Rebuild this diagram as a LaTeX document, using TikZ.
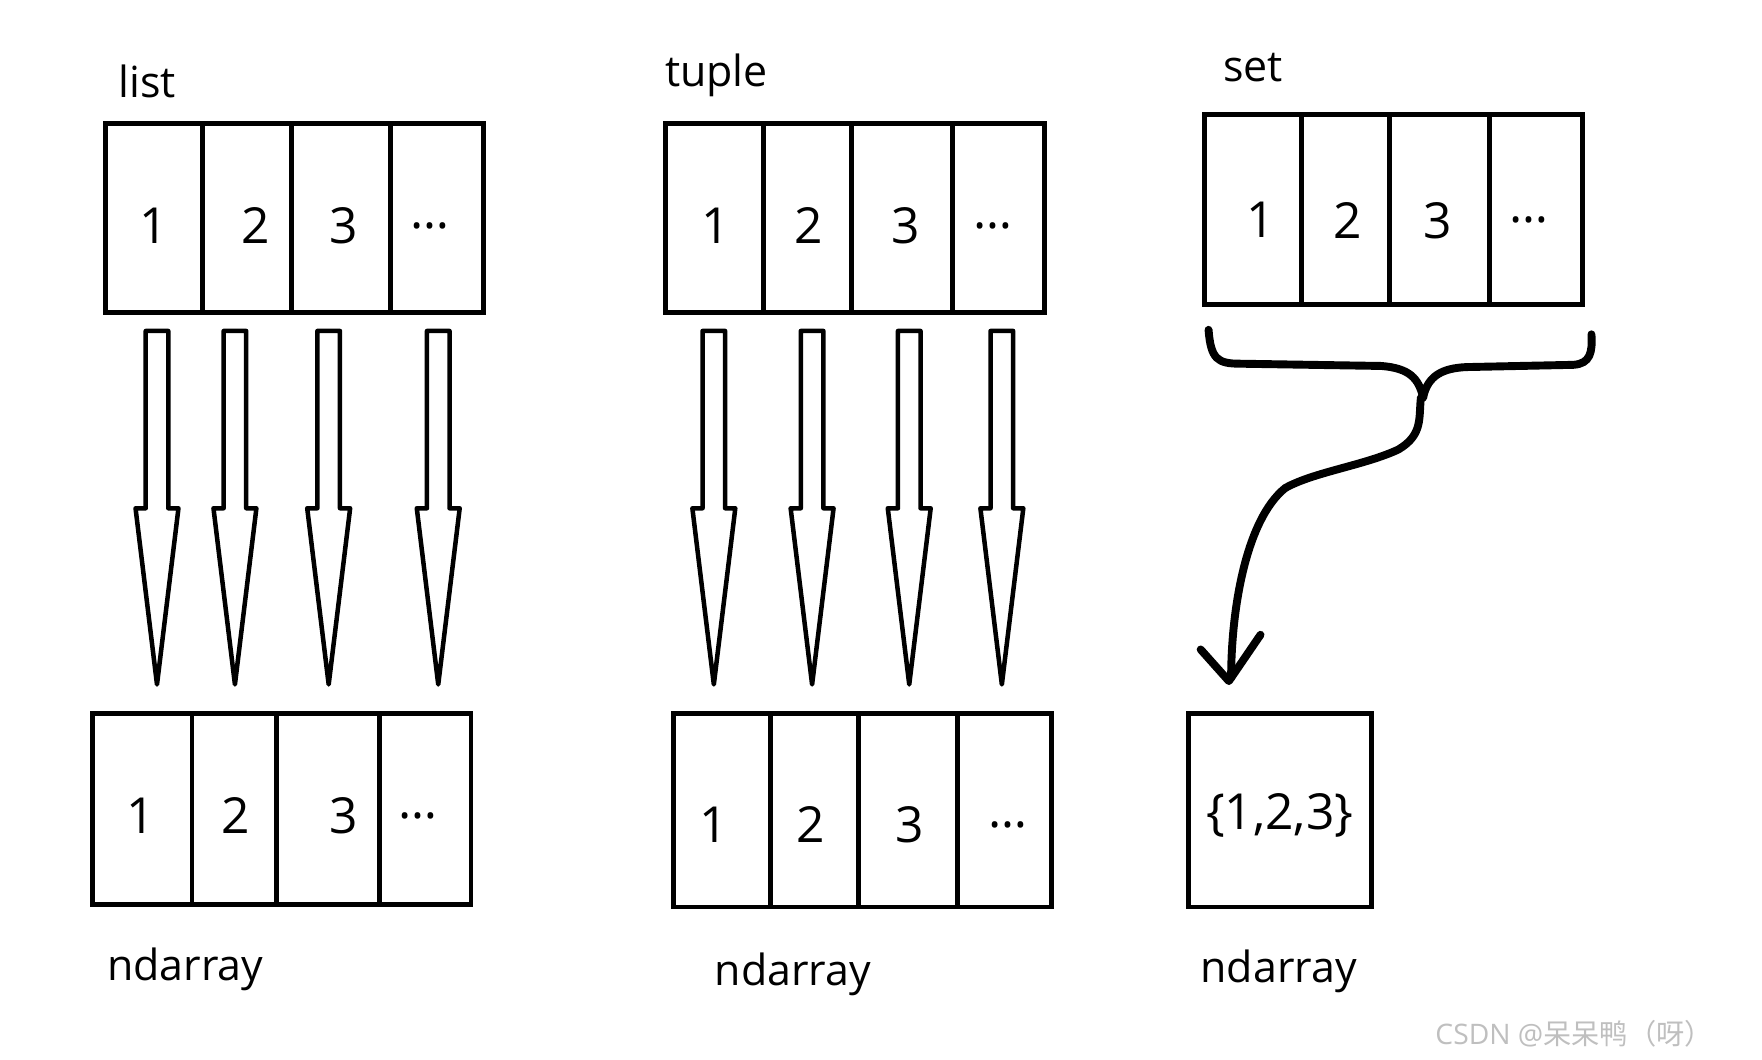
\documentclass[tikz,border=0pt]{standalone}
\usepackage{fontspec}
\setmainfont{Open Sans}
\newfontfamily\cjk{Noto Sans CJK SC}
\begin{document}
\begin{tikzpicture}[x=0.5pt,y=-0.5pt,line width=2.2pt,
  lbl/.style={anchor=west,font=\fontsize{19}{22}\selectfont},
  dig/.style={font=\fontsize{22}{24}\selectfont}]
\useasboundingbox (0,0) rectangle (1560,938);
\fill[white] (0,0) rectangle (1560,938);
% top boxes
\draw (93,109) rectangle (428,277); \foreach \d in {179,258,346} \draw (\d,109)--(\d,277);
\draw (589,109) rectangle (925,277); \foreach \d in {676,754,843} \draw (\d,109)--(\d,277);
\draw (1066,101) rectangle (1401,270); \foreach \d in {1152,1230,1319} \draw (\d,101)--(\d,270);
% bottom boxes
\draw (82,632) rectangle (417,801); \foreach \d in {170,245,336} \draw (\d,632)--(\d,801);
\draw (596,632) rectangle (931,803); \foreach \d in {682,760,848} \draw (\d,632)--(\d,803);
\draw (1052,632) rectangle (1214,803);
% digits
\foreach \x/\t in {136/1,226/2,304/3,381/\dots} \node[dig] at (\x,200) {\t};
\foreach \x/\t in {634/1,716/2,802/3,879/\dots} \node[dig] at (\x,200) {\t};
\foreach \x/\t in {1116/1,1193/2,1273/3,1354/\dots} \node[dig] at (\x,195) {\t};
\foreach \x/\t in {125/1,209/2,304/3,370/\dots} \node[dig] at (\x,722) {\t};
\foreach \x/\t in {632/1,718/2,805/3,892/\dots} \node[dig] at (\x,730) {\t};
\node[dig] (s) at (1133,722) {\{1,2,3\}};
% labels
\node[lbl] (l1) at (96,72) {list};
\node[lbl] (l2) at (580,67) {tuple};
\node[lbl] (l3) at (1074,60) {set};
\node[lbl] (n1) at (86,858) {ndarray};
\node[lbl] (n2) at (624,863) {ndarray};
\node[lbl] (n3) at (1054,860) {ndarray};
% hollow arrows
\foreach \x in {139,208,291,388,632,719,805,887}
  \draw[line width=2pt,line join=round] (\x-10,293) -- (\x+10,293) -- (\x+10,450) -- (\x+19,450)
     -- (\x,606) -- (\x-19,450) -- (\x-10,450) -- cycle;
% brace and curved arrow
\draw[line width=3.5pt,line cap=round,line join=round]
  (1070,292) .. controls (1072,318) and (1078,322) .. (1098,322)
  -- (1223,324) .. controls (1248,326) and (1256,335) .. (1260,352)
  .. controls (1264,332) and (1278,326) .. (1298,325)
  -- (1393,323) .. controls (1408,322) and (1410,312) .. (1409,296);
\draw[line width=3.5pt,line cap=round,line join=round]
  (1258,352) .. controls (1256,370) and (1260,385) .. (1238,398)
  .. controls (1208,412) and (1163,418) .. (1138,432)
  .. controls (1103,460) and (1090,540) .. (1090,600);
\draw[line width=3.5pt,line cap=round,line join=round]
  (1063,575) -- (1088,603) -- (1116,562);
% watermark
\node[anchor=west,text=black!25,font=\fontsize{12.5}{15}\selectfont] (w) at (1262,915) {CSDN @{\cjk 呆呆鸭（呀）}};
\end{tikzpicture}
\end{document}
